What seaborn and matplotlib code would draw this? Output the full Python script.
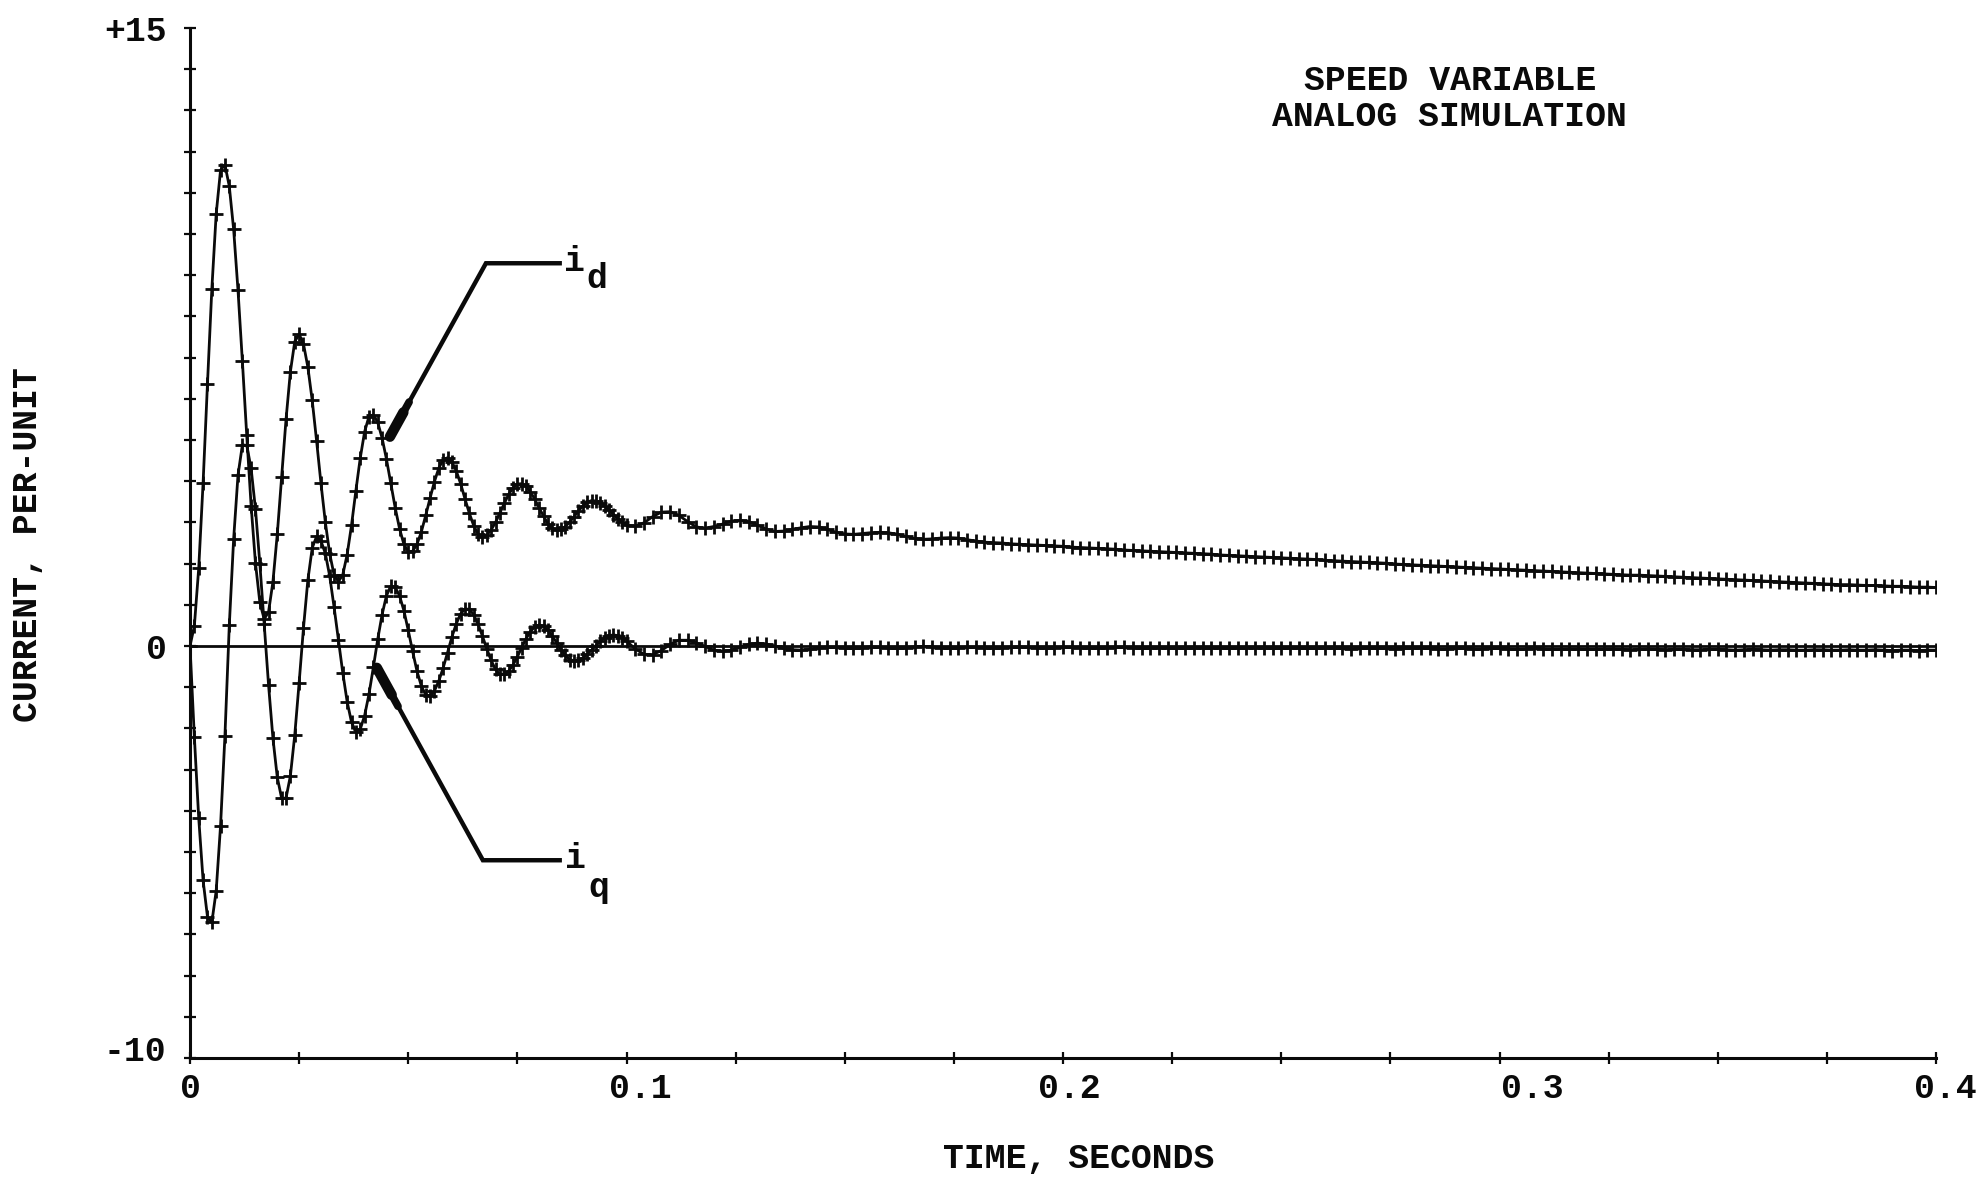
import numpy as np
import pandas as pd
import matplotlib
matplotlib.use("Agg")
import matplotlib.pyplot as plt
from matplotlib.ticker import MultipleLocator
import matplotlib.transforms as mtransforms
import seaborn as sns

# ---------------- data ----------------
# sample times in milliseconds: 1 ms steps to 0.1 s, then 2 ms steps
time_ms = list(range(0, 101)) + list(range(102, 401, 2))

i_d = [0.00, 0.49, 1.89, 3.96, 6.36, 8.66, 10.49, 11.55, 11.68, 11.16,
       10.11, 8.63, 6.91, 5.11, 3.41, 2.01, 1.06, 0.65, 0.83, 1.56,
       2.72, 4.11, 5.50, 6.66, 7.39, 7.57, 7.33, 6.77, 5.96, 4.98,
       3.95, 3.01, 2.24, 1.73, 1.56, 1.73, 2.22, 2.93, 3.77, 4.56,
       5.20, 5.57, 5.61, 5.43, 5.05, 4.54, 3.95, 3.36, 2.85, 2.47,
       2.29, 2.30, 2.47, 2.77, 3.17, 3.59, 3.99, 4.32, 4.52, 4.57,
       4.47, 4.25, 3.94, 3.57, 3.22, 2.92, 2.72, 2.65, 2.69, 2.82,
       3.00, 3.23, 3.46, 3.68, 3.84, 3.93, 3.94, 3.88, 3.74, 3.56,
       3.35, 3.15, 2.97, 2.86, 2.81, 2.83, 2.90, 3.01, 3.14, 3.28,
       3.40, 3.49, 3.53, 3.52, 3.48, 3.40, 3.30, 3.19, 3.09, 3.00,
       2.93,
       2.91, 2.99, 3.14, 3.25, 3.26, 3.17, 3.02, 2.89, 2.86, 2.90,
       2.96, 3.03, 3.05, 3.02, 2.93, 2.84, 2.78, 2.79, 2.83, 2.87,
       2.90, 2.89, 2.83, 2.76, 2.72, 2.71, 2.73, 2.75, 2.76, 2.75,
       2.71, 2.66, 2.61, 2.59, 2.60, 2.62, 2.63, 2.62, 2.58, 2.55,
       2.52, 2.51, 2.50, 2.48, 2.47, 2.46, 2.45, 2.44, 2.43, 2.42,
       2.40, 2.39, 2.38, 2.37, 2.36, 2.35, 2.33, 2.32, 2.31, 2.30,
       2.29, 2.28, 2.27, 2.26, 2.25, 2.24, 2.23, 2.21, 2.20, 2.19,
       2.18, 2.17, 2.16, 2.15, 2.14, 2.13, 2.12, 2.11, 2.10, 2.08,
       2.07, 2.06, 2.05, 2.04, 2.03, 2.02, 2.01, 1.99, 1.98, 1.97,
       1.96, 1.95, 1.94, 1.93, 1.92, 1.91, 1.90, 1.89, 1.88, 1.87,
       1.86, 1.85, 1.84, 1.83, 1.82, 1.81, 1.80, 1.79, 1.78, 1.77,
       1.76, 1.75, 1.74, 1.73, 1.72, 1.72, 1.71, 1.70, 1.69, 1.68,
       1.67, 1.66, 1.65, 1.64, 1.63, 1.62, 1.61, 1.60, 1.59, 1.58,
       1.57, 1.56, 1.55, 1.54, 1.53, 1.52, 1.51, 1.50, 1.49, 1.49,
       1.48, 1.47, 1.47, 1.46, 1.45, 1.45, 1.44, 1.43, 1.43, 1.42]

i_q = [0.00, -2.21, -4.18, -5.69, -6.57, -6.71, -5.94, -4.36, -2.19, 0.50,
       2.60, 4.15, 4.88, 4.87, 4.31, 3.32, 2.00, 0.53, -0.95, -2.24,
       -3.19, -3.70, -3.69, -3.15, -2.16, -0.89, 0.44, 1.60, 2.38, 2.66,
       2.55, 2.25, 1.70, 0.95, 0.15, -0.65, -1.35, -1.85, -2.08, -2.02,
       -1.69, -1.17, -0.52, 0.16, 0.76, 1.22, 1.45, 1.43, 1.22, 0.86,
       0.38, -0.13, -0.61, -0.97, -1.19, -1.21, -1.09, -0.85, -0.53, -0.16,
       0.22, 0.54, 0.78, 0.90, 0.89, 0.76, 0.53, 0.24, -0.07, -0.35,
       -0.57, -0.69, -0.69, -0.61, -0.46, -0.26, -0.04, 0.18, 0.35, 0.47,
       0.51, 0.48, 0.38, 0.24, 0.08, -0.09, -0.23, -0.33, -0.36, -0.34,
       -0.29, -0.20, -0.10, 0.01, 0.11, 0.20, 0.25, 0.27, 0.25, 0.20,
       0.12,
       -0.07, -0.20, -0.21, -0.11, 0.04, 0.14, 0.14, 0.08, -0.01, -0.10,
       -0.13, -0.10, -0.03, 0.04, 0.07, 0.05, 0.00, -0.06, -0.09, -0.10,
       -0.08, -0.05, -0.03, -0.03, -0.05, -0.06, -0.04, -0.02, -0.03, -0.05,
       -0.06, -0.04, -0.02, -0.01, -0.02, -0.04, -0.05, -0.04, -0.03, -0.03,
       -0.04, -0.05, -0.04, -0.03, -0.02, -0.03, -0.04, -0.05, -0.04, -0.03,
       -0.03, -0.04, -0.05, -0.05, -0.04, -0.03, -0.03, -0.04, -0.05, -0.05,
       -0.04, -0.04, -0.05, -0.06, -0.05, -0.04, -0.04, -0.05, -0.06, -0.05,
       -0.04, -0.04, -0.05, -0.06, -0.06, -0.05, -0.05, -0.06, -0.06, -0.05,
       -0.05, -0.06, -0.07, -0.06, -0.05, -0.05, -0.06, -0.07, -0.06, -0.05,
       -0.05, -0.06, -0.07, -0.07, -0.06, -0.06, -0.07, -0.07, -0.06, -0.06,
       -0.07, -0.08, -0.07, -0.06, -0.07, -0.08, -0.08, -0.07, -0.07, -0.08,
       -0.08, -0.07, -0.07, -0.08, -0.09, -0.08, -0.07, -0.08, -0.09, -0.08,
       -0.08, -0.09, -0.09, -0.08, -0.08, -0.09, -0.10, -0.09, -0.08, -0.09,
       -0.10, -0.09, -0.09, -0.10, -0.10, -0.09, -0.09, -0.10, -0.10, -0.09,
       -0.10, -0.10, -0.09, -0.10, -0.11, -0.10, -0.10, -0.11, -0.10, -0.10]

x_major = [0.0, 0.1, 0.2, 0.3, 0.4]
x_major_labels = ["0", "0.1", "0.2", "0.3", "0.4"]
y_major = [-10, 0, 15]
y_major_labels = ["-10", "0", "+15"]

# ---------------- style ----------------
sns.set_theme(style="white")
plt.rcParams["font.family"] = ["Liberation Mono", "DejaVu Sans Mono"]
plt.rcParams["font.weight"] = "bold"
plt.rcParams["axes.labelweight"] = "bold"
INK = "#0a0a0a"
FS = 25

df = pd.DataFrame({"time": np.array(time_ms) / 1000.0, "i_d": i_d, "i_q": i_q})

fig = plt.figure(figsize=(19.88, 11.79), dpi=100)
ax = fig.add_axes([190 / 1988, 1 - 1058 / 1179, 1746 / 1988, 1030 / 1179])

for col in ["i_d", "i_q"]:
    sns.lineplot(data=df, x="time", y=col, ax=ax, color=INK, lw=2.0,
                 marker="+", markersize=10, markeredgewidth=2.0,
                 markeredgecolor=INK, estimator=None, errorbar=None,
                 legend=False, zorder=3)

ax.axhline(0, color=INK, lw=2.0, zorder=2)

ax.set_xlim(0, 0.4)
ax.set_ylim(-10, 15)

ax.set_xticks(x_major)
ax.set_xticklabels(x_major_labels)
ax.xaxis.set_minor_locator(MultipleLocator(0.025))
ax.set_yticks(y_major)
ax.set_yticklabels(y_major_labels)
ax.yaxis.set_minor_locator(MultipleLocator(1))
ax.tick_params(which="both", direction="inout", length=8, width=1.6,
               color=INK, bottom=True, left=True, top=False, right=False)
ax.tick_params(axis="x", which="major", labelsize=FS, pad=6, labelcolor=INK)
ax.tick_params(axis="y", which="major", labelsize=FS, pad=13, labelcolor=INK)

# typewriter-style small misplacements of the tick labels (pixels)
x_label_shift = [0, 14, 6, 33, 9]
for lab, dx in zip(ax.get_xticklabels(), x_label_shift):
    lab.set_transform(lab.get_transform() +
                      mtransforms.ScaledTranslation(dx / 100, 0, fig.dpi_scale_trans))
y_label_shift = [10, 0, 0]
for lab, dy in zip(ax.get_yticklabels(), y_label_shift):
    lab.set_transform(lab.get_transform() +
                      mtransforms.ScaledTranslation(0, dy / 100, fig.dpi_scale_trans))

for s in ["top", "right"]:
    ax.spines[s].set_visible(False)
for s in ["left", "bottom"]:
    ax.spines[s].set_color(INK)
    ax.spines[s].set_linewidth(2.2)

ax.set_xlabel("TIME, SECONDS", fontsize=FS, color=INK)
ax.xaxis.set_label_coords(0.509, -0.098)
ax.xaxis.label.set_va("center")
ax.set_ylabel("CURRENT, PER-UNIT", fontsize=FS, color=INK)
ax.yaxis.set_label_coords(-0.0928, 0.498)
ax.yaxis.label.set_va("center")

ax.text(0.7216, 0.9316, "SPEED VARIABLE\nANALOG SIMULATION", transform=ax.transAxes,
        ha="center", va="center", multialignment="center", fontsize=FS,
        color=INK, linespacing=1.15)

# leader lines with thickened arrow tips
for elbow, end, tip, sub_pos, main_pos, sub in [
        ((0.0678, 9.29), (0.0852, 9.29), (0.0458, 5.08), (0.0932, 8.92), (0.0880, 9.34), "d"),
        ((0.0671, -5.20), (0.0852, -5.20), (0.0428, -0.53), (0.0937, -5.85), (0.0884, -5.15), "q")]:
    ax.plot([end[0], elbow[0], tip[0]], [end[1], elbow[1], tip[1]], color=INK, lw=3.2,
            solid_capstyle="butt", solid_joinstyle="miter", zorder=4)
    # thick tapered tip: two overlapping heavier segments near the tip
    for frac0, lw in [(0.80, 5.5), (0.86, 7.5)]:
        p0 = (elbow[0] + frac0 * (tip[0] - elbow[0]), elbow[1] + frac0 * (tip[1] - elbow[1]))
        ax.plot([p0[0], tip[0]], [p0[1], tip[1]], color=INK, lw=lw,
                solid_capstyle="round", zorder=4)
    ax.text(main_pos[0], main_pos[1], "i", fontsize=FS, color=INK,
            ha="center", va="center")
    ax.text(sub_pos[0], sub_pos[1], sub, fontsize=FS, color=INK,
            ha="center", va="center")

fig.savefig("out.png", dpi=100, facecolor="white")
